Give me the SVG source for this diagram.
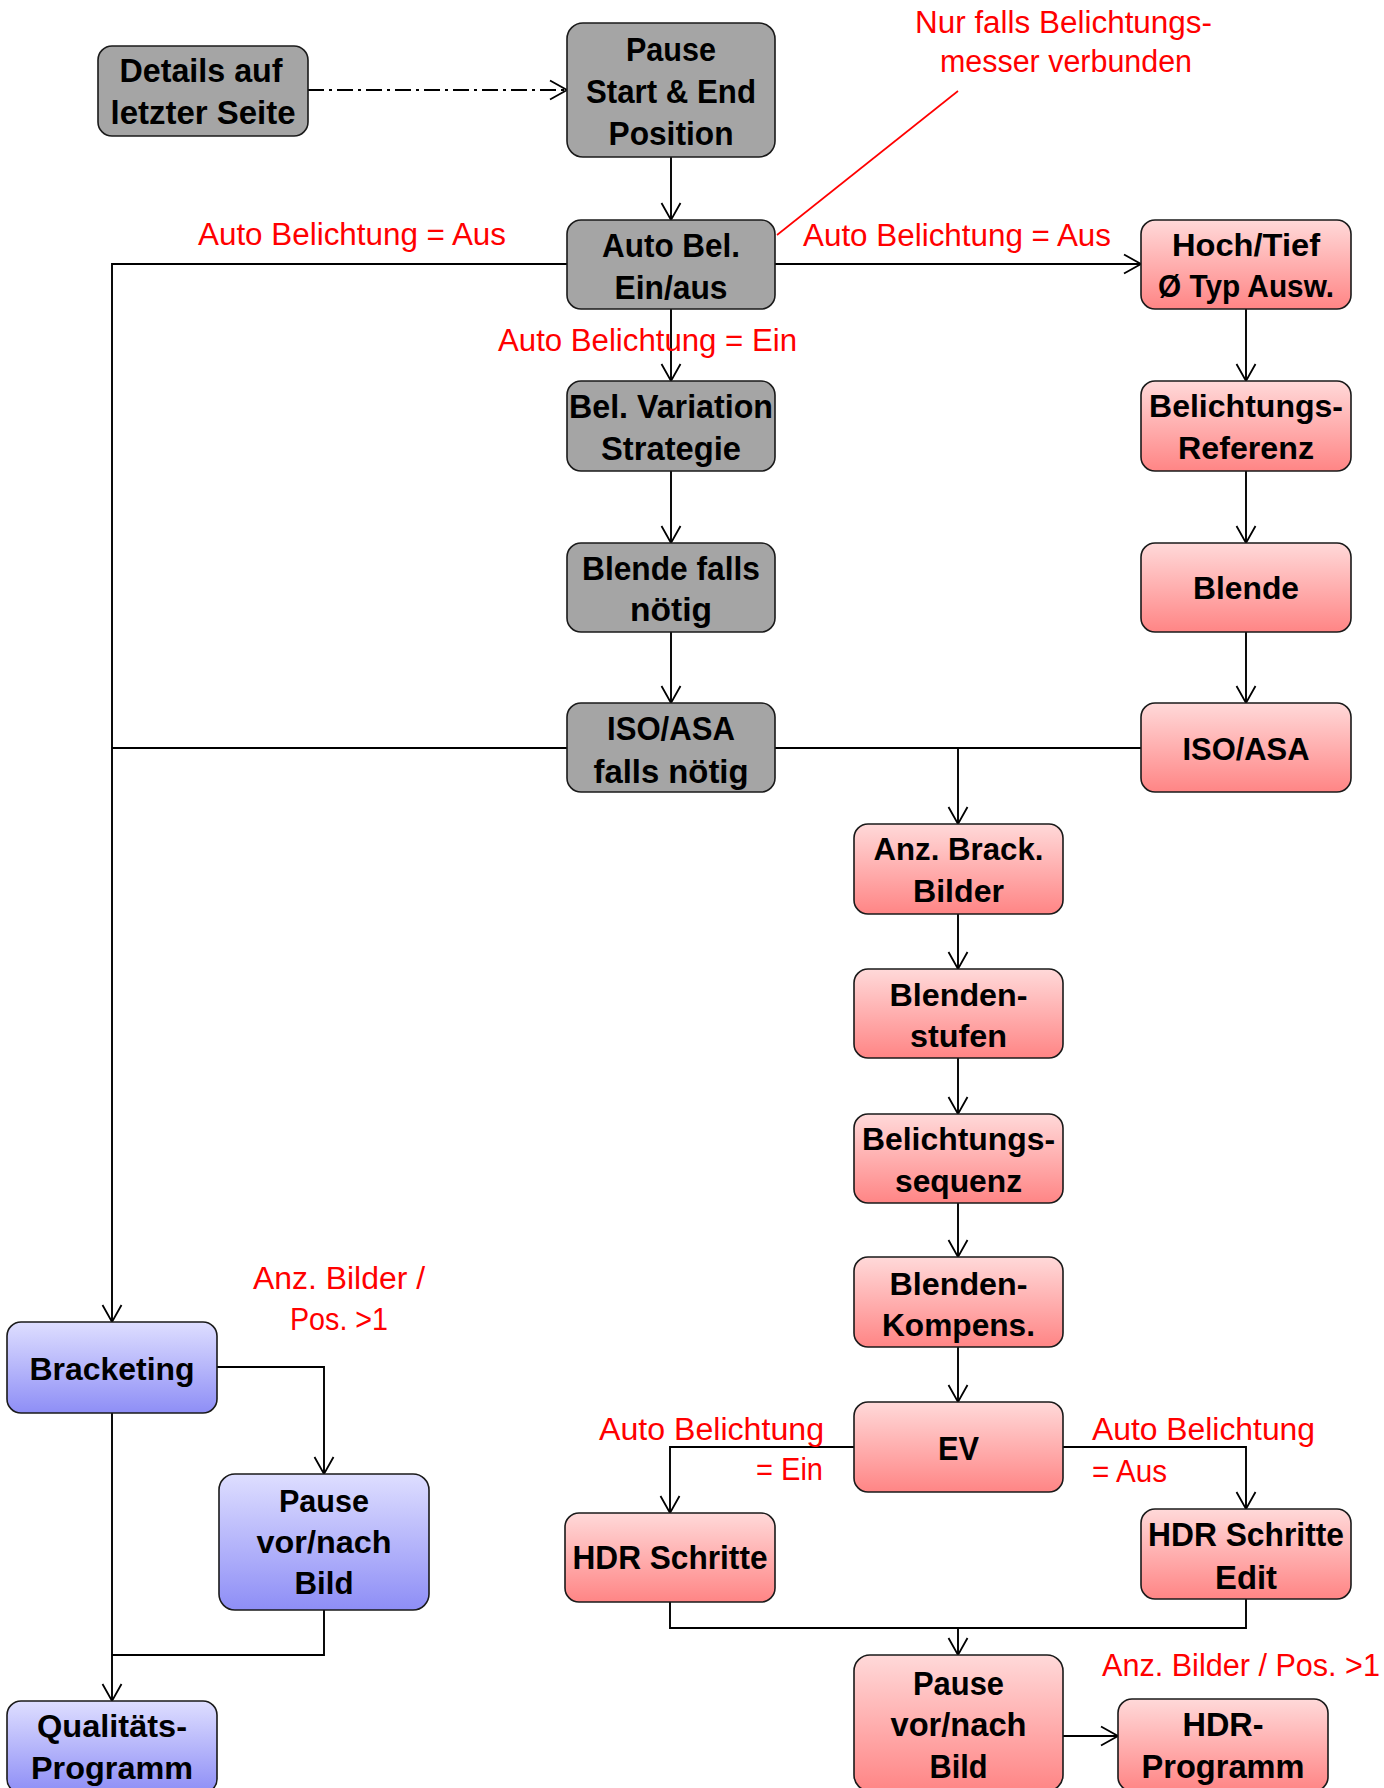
<svg xmlns="http://www.w3.org/2000/svg" width="1384" height="1788" viewBox="0 0 1384 1788">
  <defs>
    <linearGradient id="gradRed" x1="0" y1="0" x2="0" y2="1">
      <stop offset="0" stop-color="#ffd9d9"/>
      <stop offset="1" stop-color="#ff8585"/>
    </linearGradient>
    <linearGradient id="gradBlue" x1="0" y1="0" x2="0" y2="1">
      <stop offset="0" stop-color="#dedeff"/>
      <stop offset="1" stop-color="#8e8ef6"/>
    </linearGradient>
    <marker id="arrow" markerUnits="userSpaceOnUse" markerWidth="22" markerHeight="24" refX="18" refY="11" orient="auto">
      <path d="M1 1.5 L18 11 L1 20.5" fill="none" stroke="#000" stroke-width="1.8"/>
    </marker>
  </defs>
  <style>
    .box { stroke: #1a1a1a; stroke-width: 1.6; }
    .gray { fill: #a5a5a5; }
    .red { fill: url(#gradRed); }
    .blue { fill: url(#gradBlue); }
    .t { font-family: "Liberation Sans", Arial, sans-serif; font-weight: bold; font-size: 32px; fill: #000; text-anchor: middle; }
    .n { font-size: 34px; }
    .lbl { font-family: "Liberation Sans", Arial, sans-serif; font-size: 31px; fill: #ff0000; }
    .c { fill: none; stroke: #000; stroke-width: 1.9; }
    .arr { marker-end: url(#arrow); }
    .dashdot { stroke-dasharray: 16 5 3 5; }
  </style>
  <rect width="1384" height="1788" fill="#fff"/>

  <!-- connectors -->
  <g id="connectors">
    <path class="c arr dashdot" d="M308 90 H567"/>
    <path class="c arr" d="M671 157 V220"/>
    <path class="c arr" d="M775 264 H1141"/>
    <path class="c arr" d="M567 264 H112 V1322"/>
    <path class="c arr" d="M671 309 V381"/>
    <path class="c arr" d="M671 471 V543"/>
    <path class="c arr" d="M671 632 V703"/>
    <path class="c arr" d="M1246 309 V381"/>
    <path class="c arr" d="M1246 471 V543"/>
    <path class="c arr" d="M1246 632 V703"/>
    <path class="c" d="M567 748 H112"/>
    <path class="c" d="M775 748 H1141"/>
    <path class="c arr" d="M958 748 V824"/>
    <path class="c arr" d="M958 914 V969"/>
    <path class="c arr" d="M958 1058 V1114"/>
    <path class="c arr" d="M958 1203 V1257"/>
    <path class="c arr" d="M958 1347 V1402"/>
    <path class="c arr" d="M854 1447 H670 V1513"/>
    <path class="c arr" d="M1063 1447 H1246 V1509"/>
    <path class="c" d="M670 1602 V1628 H1246 V1599"/>
    <path class="c arr" d="M958 1628 V1655"/>
    <path class="c arr" d="M1063 1736 H1118"/>
    <path class="c arr" d="M217 1367 H324 V1474"/>
    <path class="c arr" d="M112 1413 V1701"/>
    <path class="c" d="M324 1610 V1655 H112"/>
    <path d="M777 235 L958 91" fill="none" stroke="#ff0000" stroke-width="1.6"/>
  </g>

  <!-- condition labels -->
  <g id="labels">
    <text class="lbl" x="915" y="33" textLength="297" lengthAdjust="spacingAndGlyphs">Nur falls Belichtungs-</text>
    <text class="lbl" x="940" y="72" textLength="252" lengthAdjust="spacingAndGlyphs">messer verbunden</text>
    <text class="lbl" x="198" y="245" textLength="308" lengthAdjust="spacingAndGlyphs">Auto Belichtung = Aus</text>
    <text class="lbl" x="803" y="246" textLength="308" lengthAdjust="spacingAndGlyphs">Auto Belichtung = Aus</text>
    <text class="lbl" x="498" y="351" textLength="299" lengthAdjust="spacingAndGlyphs">Auto Belichtung = Ein</text>
    <text class="lbl" x="253" y="1289" textLength="172" lengthAdjust="spacingAndGlyphs">Anz. Bilder /</text>
    <text class="lbl" x="290" y="1330" textLength="98" lengthAdjust="spacingAndGlyphs">Pos. &gt;1</text>
    <text class="lbl" x="599" y="1440" textLength="225" lengthAdjust="spacingAndGlyphs">Auto Belichtung</text>
    <text class="lbl" x="756" y="1480" textLength="67" lengthAdjust="spacingAndGlyphs">= Ein</text>
    <text class="lbl" x="1092" y="1440" textLength="223" lengthAdjust="spacingAndGlyphs">Auto Belichtung</text>
    <text class="lbl" x="1092" y="1482" textLength="75" lengthAdjust="spacingAndGlyphs">= Aus</text>
    <text class="lbl" x="1102" y="1676" textLength="278" lengthAdjust="spacingAndGlyphs">Anz. Bilder / Pos. &gt;1</text>
  </g>

  <!-- gray column -->
  <g id="details">
    <rect class="box gray" x="98" y="46" width="210" height="90" rx="14"/>
    <text class="t n" x="201" y="82" textLength="163" lengthAdjust="spacingAndGlyphs">Details auf</text>
    <text class="t n" x="203" y="124" textLength="185" lengthAdjust="spacingAndGlyphs">letzter Seite</text>
  </g>
  <g id="pause-start-end">
    <rect class="box gray" x="567" y="23" width="208" height="134" rx="16"/>
    <text class="t n" x="671" y="61" textLength="90" lengthAdjust="spacingAndGlyphs">Pause</text>
    <text class="t n" x="671" y="103" textLength="170" lengthAdjust="spacingAndGlyphs">Start &amp; End</text>
    <text class="t n" x="671" y="145" textLength="125" lengthAdjust="spacingAndGlyphs">Position</text>
  </g>
  <g id="auto-bel">
    <rect class="box gray" x="567" y="220" width="208" height="89" rx="14"/>
    <text class="t n" x="671" y="257" textLength="138" lengthAdjust="spacingAndGlyphs">Auto Bel.</text>
    <text class="t n" x="671" y="299" textLength="113" lengthAdjust="spacingAndGlyphs">Ein/aus</text>
  </g>
  <g id="bel-variation">
    <rect class="box gray" x="567" y="381" width="208" height="90" rx="14"/>
    <text class="t n" x="671" y="418" textLength="204" lengthAdjust="spacingAndGlyphs">Bel. Variation</text>
    <text class="t n" x="671" y="460" textLength="140" lengthAdjust="spacingAndGlyphs">Strategie</text>
  </g>
  <g id="blende-falls">
    <rect class="box gray" x="567" y="543" width="208" height="89" rx="14"/>
    <text class="t n" x="671" y="580" textLength="178" lengthAdjust="spacingAndGlyphs">Blende falls</text>
    <text class="t n" x="671" y="621" textLength="82" lengthAdjust="spacingAndGlyphs">nötig</text>
  </g>
  <g id="iso-falls">
    <rect class="box gray" x="567" y="703" width="208" height="89" rx="14"/>
    <text class="t n" x="671" y="740" textLength="128" lengthAdjust="spacingAndGlyphs">ISO/ASA</text>
    <text class="t n" x="671" y="783" textLength="155" lengthAdjust="spacingAndGlyphs">falls nötig</text>
  </g>

  <!-- red column (manual exposure) -->
  <g id="hoch-tief">
    <rect class="box red" x="1141" y="220" width="210" height="89" rx="14"/>
    <text class="t" x="1246" y="256" textLength="148" lengthAdjust="spacingAndGlyphs">Hoch/Tief</text>
    <text class="t" x="1246" y="297" textLength="176" lengthAdjust="spacingAndGlyphs">Ø Typ Ausw.</text>
  </g>
  <g id="bel-referenz">
    <rect class="box red" x="1141" y="381" width="210" height="90" rx="14"/>
    <text class="t" x="1246" y="417" textLength="194" lengthAdjust="spacingAndGlyphs">Belichtungs-</text>
    <text class="t" x="1246" y="459" textLength="136" lengthAdjust="spacingAndGlyphs">Referenz</text>
  </g>
  <g id="blende">
    <rect class="box red" x="1141" y="543" width="210" height="89" rx="14"/>
    <text class="t" x="1246" y="599" textLength="106" lengthAdjust="spacingAndGlyphs">Blende</text>
  </g>
  <g id="iso">
    <rect class="box red" x="1141" y="703" width="210" height="89" rx="14"/>
    <text class="t" x="1246" y="760" textLength="127" lengthAdjust="spacingAndGlyphs">ISO/ASA</text>
  </g>

  <!-- bracketing chain -->
  <g id="anz-brack">
    <rect class="box red" x="854" y="824" width="209" height="90" rx="14"/>
    <text class="t" x="958.5" y="860" textLength="170" lengthAdjust="spacingAndGlyphs">Anz. Brack.</text>
    <text class="t" x="958.5" y="902" textLength="91" lengthAdjust="spacingAndGlyphs">Bilder</text>
  </g>
  <g id="blendenstufen">
    <rect class="box red" x="854" y="969" width="209" height="89" rx="14"/>
    <text class="t" x="958.5" y="1006" textLength="138" lengthAdjust="spacingAndGlyphs">Blenden-</text>
    <text class="t" x="958.5" y="1047" textLength="97" lengthAdjust="spacingAndGlyphs">stufen</text>
  </g>
  <g id="bel-sequenz">
    <rect class="box red" x="854" y="1114" width="209" height="89" rx="14"/>
    <text class="t" x="958.5" y="1150" textLength="193" lengthAdjust="spacingAndGlyphs">Belichtungs-</text>
    <text class="t" x="958.5" y="1192" textLength="127" lengthAdjust="spacingAndGlyphs">sequenz</text>
  </g>
  <g id="blenden-kompens">
    <rect class="box red" x="854" y="1257" width="209" height="90" rx="14"/>
    <text class="t" x="958.5" y="1295" textLength="138" lengthAdjust="spacingAndGlyphs">Blenden-</text>
    <text class="t" x="958.5" y="1336" textLength="153" lengthAdjust="spacingAndGlyphs">Kompens.</text>
  </g>
  <g id="ev">
    <rect class="box red" x="854" y="1402" width="209" height="90" rx="14"/>
    <text class="t n" x="958.5" y="1460" textLength="41" lengthAdjust="spacingAndGlyphs">EV</text>
  </g>
  <g id="hdr-schritte">
    <rect class="box red" x="565" y="1513" width="210" height="89" rx="14"/>
    <text class="t n" x="670" y="1569" textLength="195" lengthAdjust="spacingAndGlyphs">HDR Schritte</text>
  </g>
  <g id="hdr-schritte-edit">
    <rect class="box red" x="1141" y="1509" width="210" height="90" rx="14"/>
    <text class="t n" x="1246" y="1546" textLength="196" lengthAdjust="spacingAndGlyphs">HDR Schritte</text>
    <text class="t n" x="1246" y="1589" textLength="62" lengthAdjust="spacingAndGlyphs">Edit</text>
  </g>
  <g id="pause-hdr">
    <rect class="box red" x="854" y="1655" width="209" height="136" rx="16"/>
    <text class="t n" x="958.5" y="1695" textLength="91" lengthAdjust="spacingAndGlyphs">Pause</text>
    <text class="t n" x="958.5" y="1736" textLength="136" lengthAdjust="spacingAndGlyphs">vor/nach</text>
    <text class="t n" x="958.5" y="1778" textLength="58" lengthAdjust="spacingAndGlyphs">Bild</text>
  </g>
  <g id="hdr-programm">
    <rect class="box red" x="1118" y="1699" width="210" height="92" rx="14"/>
    <text class="t n" x="1223" y="1736" textLength="81" lengthAdjust="spacingAndGlyphs">HDR-</text>
    <text class="t n" x="1223" y="1778" textLength="163" lengthAdjust="spacingAndGlyphs">Programm</text>
  </g>

  <!-- blue branch -->
  <g id="bracketing">
    <rect class="box blue" x="7" y="1322" width="210" height="91" rx="14"/>
    <text class="t" x="112" y="1380" textLength="165" lengthAdjust="spacingAndGlyphs">Bracketing</text>
  </g>
  <g id="pause-bracketing">
    <rect class="box blue" x="219" y="1474" width="210" height="136" rx="16"/>
    <text class="t" x="324" y="1512" textLength="90" lengthAdjust="spacingAndGlyphs">Pause</text>
    <text class="t" x="324" y="1553" textLength="135" lengthAdjust="spacingAndGlyphs">vor/nach</text>
    <text class="t" x="324" y="1594" textLength="59" lengthAdjust="spacingAndGlyphs">Bild</text>
  </g>
  <g id="qualitaet">
    <rect class="box blue" x="7" y="1701" width="210" height="92" rx="14"/>
    <text class="t" x="112" y="1737" textLength="150" lengthAdjust="spacingAndGlyphs">Qualitäts-</text>
    <text class="t" x="112" y="1779" textLength="162" lengthAdjust="spacingAndGlyphs">Programm</text>
  </g>
</svg>
